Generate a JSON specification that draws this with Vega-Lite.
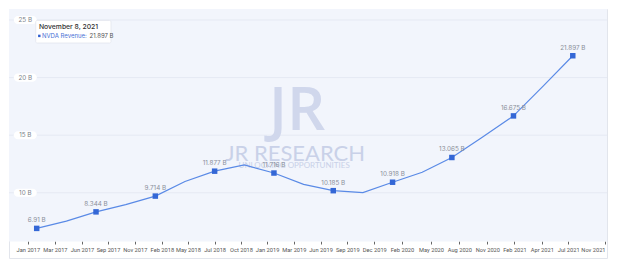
{
  "$schema": "https://vega.github.io/schema/vega-lite/v6.json",
  "width": 598,
  "height": 249,
  "autosize": {"type": "none"},
  "padding": {"left": 9, "top": 9, "right": 18, "bottom": 19},
  "background": "white",
  "config": {
    "font": "Inter",
    "view": {"stroke": "#e2e5ec", "fill": "white"}
  },
  "datasets": {
    "ttm": [
      {"date": "2017-01-29", "value": 6.91},
      {"date": "2017-04-30", "value": 7.542},
      {"date": "2017-07-30", "value": 8.344},
      {"date": "2017-10-29", "value": 8.976},
      {"date": "2018-01-28", "value": 9.714},
      {"date": "2018-04-29", "value": 10.984},
      {"date": "2018-07-29", "value": 11.877},
      {"date": "2018-10-28", "value": 12.422},
      {"date": "2019-01-27", "value": 11.716},
      {"date": "2019-04-28", "value": 10.729},
      {"date": "2019-07-28", "value": 10.185},
      {"date": "2019-10-27", "value": 10.018},
      {"date": "2020-01-26", "value": 10.918},
      {"date": "2020-04-26", "value": 11.778},
      {"date": "2020-07-26", "value": 13.065},
      {"date": "2020-10-25", "value": 14.777},
      {"date": "2021-01-31", "value": 16.675},
      {"date": "2021-05-02", "value": 19.256},
      {"date": "2021-08-01", "value": 21.897}
    ],
    "grid": [{"v": 10}, {"v": 15}, {"v": 20}, {"v": 25}]
  },
  "layer": [
    {
      "data": {"values": [{}]},
      "mark": {"type": "rect", "color": "#f2f5fc"},
      "encoding": {
        "y": {"datum": 5.77, "type": "quantitative", "scale": {"domain": [4.34, 25.955], "nice": false, "zero": false}, "axis": null},
        "y2": {"datum": 25.955}
      }
    },
    {
      "data": {"name": "grid"},
      "mark": {"type": "rule", "color": "#e5e9f3", "strokeWidth": 1},
      "encoding": {
        "y": {"field": "v", "type": "quantitative", "scale": {"domain": [4.34, 25.955], "nice": false, "zero": false}, "axis": null}
      }
    },
    {
      "data": {"values": [{}]},
      "mark": {"type": "text", "text": "JR", "fontSize": 60, "fontWeight": 600, "font": "Open Sans", "color": "#d0d7ec", "align": "center", "baseline": "middle", "letterSpacing": -4},
      "encoding": {
        "x": {"datum": {"year": 2019, "month": 4, "date": 8}, "type": "temporal", "scale": {"domain": [{"year": 2016, "month": 11, "date": 5}, {"year": 2021, "month": 11, "date": 14}]}, "axis": {"title": null, "format": "%b %Y", "domain": false, "grid": false, "tickColor": "#666", "tickSize": 3, "labelFont": "Roboto", "labelFontSize": 5.7, "labelColor": "#555", "labelPadding": 2, "offset": -17, "labelOverlap": false, "labelFlush": 5, "values": [{"year": 2017, "month": 1, "date": 2}, {"year": 2017, "month": 3, "date": 26}, {"year": 2017, "month": 6, "date": 17}, {"year": 2017, "month": 9, "date": 5}, {"year": 2017, "month": 11, "date": 26}, {"year": 2018, "month": 2, "date": 17}, {"year": 2018, "month": 5, "date": 8}, {"year": 2018, "month": 7, "date": 29}, {"year": 2018, "month": 10, "date": 18}, {"year": 2019, "month": 1, "date": 6}, {"year": 2019, "month": 3, "date": 29}, {"year": 2019, "month": 6, "date": 19}, {"year": 2019, "month": 9, "date": 9}, {"year": 2019, "month": 12, "date": 1}, {"year": 2020, "month": 2, "date": 24}, {"year": 2020, "month": 5, "date": 23}, {"year": 2020, "month": 8, "date": 18}, {"year": 2020, "month": 11, "date": 12}, {"year": 2021, "month": 2, "date": 3}, {"year": 2021, "month": 4, "date": 28}, {"year": 2021, "month": 7, "date": 18}, {"year": 2021, "month": 11, "date": 8}]}},
        "y": {"datum": 17.0, "type": "quantitative", "scale": {"domain": [4.34, 25.955], "nice": false, "zero": false}, "axis": null}
      }
    },
    {
      "data": {"values": [{}]},
      "mark": {"type": "text", "text": "JR RESEARCH", "fontSize": 22, "fontWeight": 400, "font": "Lato", "color": "#c9d1e8", "align": "center", "baseline": "middle"},
      "encoding": {
        "x": {"datum": {"year": 2019, "month": 4, "date": 2}, "type": "temporal", "scale": {"domain": [{"year": 2016, "month": 11, "date": 5}, {"year": 2021, "month": 11, "date": 14}]}, "axis": {"title": null, "format": "%b %Y", "domain": false, "grid": false, "tickColor": "#666", "tickSize": 3, "labelFont": "Roboto", "labelFontSize": 5.7, "labelColor": "#555", "labelPadding": 2, "offset": -17, "labelOverlap": false, "labelFlush": 5, "values": [{"year": 2017, "month": 1, "date": 2}, {"year": 2017, "month": 3, "date": 26}, {"year": 2017, "month": 6, "date": 17}, {"year": 2017, "month": 9, "date": 5}, {"year": 2017, "month": 11, "date": 26}, {"year": 2018, "month": 2, "date": 17}, {"year": 2018, "month": 5, "date": 8}, {"year": 2018, "month": 7, "date": 29}, {"year": 2018, "month": 10, "date": 18}, {"year": 2019, "month": 1, "date": 6}, {"year": 2019, "month": 3, "date": 29}, {"year": 2019, "month": 6, "date": 19}, {"year": 2019, "month": 9, "date": 9}, {"year": 2019, "month": 12, "date": 1}, {"year": 2020, "month": 2, "date": 24}, {"year": 2020, "month": 5, "date": 23}, {"year": 2020, "month": 8, "date": 18}, {"year": 2020, "month": 11, "date": 12}, {"year": 2021, "month": 2, "date": 3}, {"year": 2021, "month": 4, "date": 28}, {"year": 2021, "month": 7, "date": 18}, {"year": 2021, "month": 11, "date": 8}]}},
        "y": {"datum": 13.37, "type": "quantitative", "scale": {"domain": [4.34, 25.955], "nice": false, "zero": false}, "axis": null}
      }
    },
    {
      "data": {"values": [{}]},
      "mark": {"type": "text", "text": "UNLOCKING OPPORTUNITIES", "fontSize": 8, "fontWeight": 400, "font": "Lato", "color": "#c9d1e8", "align": "center", "baseline": "middle"},
      "encoding": {
        "x": {"datum": {"year": 2019, "month": 3, "date": 30}, "type": "temporal", "scale": {"domain": [{"year": 2016, "month": 11, "date": 5}, {"year": 2021, "month": 11, "date": 14}]}, "axis": {"title": null, "format": "%b %Y", "domain": false, "grid": false, "tickColor": "#666", "tickSize": 3, "labelFont": "Roboto", "labelFontSize": 5.7, "labelColor": "#555", "labelPadding": 2, "offset": -17, "labelOverlap": false, "labelFlush": 5, "values": [{"year": 2017, "month": 1, "date": 2}, {"year": 2017, "month": 3, "date": 26}, {"year": 2017, "month": 6, "date": 17}, {"year": 2017, "month": 9, "date": 5}, {"year": 2017, "month": 11, "date": 26}, {"year": 2018, "month": 2, "date": 17}, {"year": 2018, "month": 5, "date": 8}, {"year": 2018, "month": 7, "date": 29}, {"year": 2018, "month": 10, "date": 18}, {"year": 2019, "month": 1, "date": 6}, {"year": 2019, "month": 3, "date": 29}, {"year": 2019, "month": 6, "date": 19}, {"year": 2019, "month": 9, "date": 9}, {"year": 2019, "month": 12, "date": 1}, {"year": 2020, "month": 2, "date": 24}, {"year": 2020, "month": 5, "date": 23}, {"year": 2020, "month": 8, "date": 18}, {"year": 2020, "month": 11, "date": 12}, {"year": 2021, "month": 2, "date": 3}, {"year": 2021, "month": 4, "date": 28}, {"year": 2021, "month": 7, "date": 18}, {"year": 2021, "month": 11, "date": 8}]}},
        "y": {"datum": 12.33, "type": "quantitative", "scale": {"domain": [4.34, 25.955], "nice": false, "zero": false}, "axis": null}
      }
    },
    {
      "data": {"name": "grid"},
      "mark": {"type": "point", "shape": "M-0.65,-0.35 L0.65,-0.35 A0.35,0.35 0 0 1 0.65,0.35 L-0.65,0.35 A0.35,0.35 0 0 1 -0.65,-0.35 Z", "filled": true, "color": "white", "opacity": 1, "size": 529},
      "encoding": {
        "x": {"datum": {"year": 2016, "month": 12, "date": 25}, "type": "temporal", "scale": {"domain": [{"year": 2016, "month": 11, "date": 5}, {"year": 2021, "month": 11, "date": 14}]}, "axis": {"title": null, "format": "%b %Y", "domain": false, "grid": false, "tickColor": "#666", "tickSize": 3, "labelFont": "Roboto", "labelFontSize": 5.7, "labelColor": "#555", "labelPadding": 2, "offset": -17, "labelOverlap": false, "labelFlush": 5, "values": [{"year": 2017, "month": 1, "date": 2}, {"year": 2017, "month": 3, "date": 26}, {"year": 2017, "month": 6, "date": 17}, {"year": 2017, "month": 9, "date": 5}, {"year": 2017, "month": 11, "date": 26}, {"year": 2018, "month": 2, "date": 17}, {"year": 2018, "month": 5, "date": 8}, {"year": 2018, "month": 7, "date": 29}, {"year": 2018, "month": 10, "date": 18}, {"year": 2019, "month": 1, "date": 6}, {"year": 2019, "month": 3, "date": 29}, {"year": 2019, "month": 6, "date": 19}, {"year": 2019, "month": 9, "date": 9}, {"year": 2019, "month": 12, "date": 1}, {"year": 2020, "month": 2, "date": 24}, {"year": 2020, "month": 5, "date": 23}, {"year": 2020, "month": 8, "date": 18}, {"year": 2020, "month": 11, "date": 12}, {"year": 2021, "month": 2, "date": 3}, {"year": 2021, "month": 4, "date": 28}, {"year": 2021, "month": 7, "date": 18}, {"year": 2021, "month": 11, "date": 8}]}},
        "y": {"field": "v", "type": "quantitative", "scale": {"domain": [4.34, 25.955], "nice": false, "zero": false}, "axis": null}
      }
    },
    {
      "data": {"name": "grid"},
      "transform": [{"calculate": "datum.v + ' B'", "as": "label"}],
      "mark": {"type": "text", "fontSize": 6.3, "color": "#7a7f8a", "align": "center", "baseline": "middle"},
      "encoding": {
        "x": {"datum": {"year": 2016, "month": 12, "date": 25}, "type": "temporal", "scale": {"domain": [{"year": 2016, "month": 11, "date": 5}, {"year": 2021, "month": 11, "date": 14}]}, "axis": {"title": null, "format": "%b %Y", "domain": false, "grid": false, "tickColor": "#666", "tickSize": 3, "labelFont": "Roboto", "labelFontSize": 5.7, "labelColor": "#555", "labelPadding": 2, "offset": -17, "labelOverlap": false, "labelFlush": 5, "values": [{"year": 2017, "month": 1, "date": 2}, {"year": 2017, "month": 3, "date": 26}, {"year": 2017, "month": 6, "date": 17}, {"year": 2017, "month": 9, "date": 5}, {"year": 2017, "month": 11, "date": 26}, {"year": 2018, "month": 2, "date": 17}, {"year": 2018, "month": 5, "date": 8}, {"year": 2018, "month": 7, "date": 29}, {"year": 2018, "month": 10, "date": 18}, {"year": 2019, "month": 1, "date": 6}, {"year": 2019, "month": 3, "date": 29}, {"year": 2019, "month": 6, "date": 19}, {"year": 2019, "month": 9, "date": 9}, {"year": 2019, "month": 12, "date": 1}, {"year": 2020, "month": 2, "date": 24}, {"year": 2020, "month": 5, "date": 23}, {"year": 2020, "month": 8, "date": 18}, {"year": 2020, "month": 11, "date": 12}, {"year": 2021, "month": 2, "date": 3}, {"year": 2021, "month": 4, "date": 28}, {"year": 2021, "month": 7, "date": 18}, {"year": 2021, "month": 11, "date": 8}]}},
        "y": {"field": "v", "type": "quantitative", "scale": {"domain": [4.34, 25.955], "nice": false, "zero": false}, "axis": null},
        "text": {"field": "label"}
      }
    },
    {
      "data": {"name": "ttm"},
      "mark": {"type": "line", "color": "#5a8ae6", "strokeWidth": 1.2},
      "encoding": {
        "x": {"field": "date", "type": "temporal", "scale": {"domain": [{"year": 2016, "month": 11, "date": 5}, {"year": 2021, "month": 11, "date": 14}]}, "axis": {"title": null, "format": "%b %Y", "domain": false, "grid": false, "tickColor": "#666", "tickSize": 3, "labelFont": "Roboto", "labelFontSize": 5.7, "labelColor": "#555", "labelPadding": 2, "offset": -17, "labelOverlap": false, "labelFlush": 5, "values": [{"year": 2017, "month": 1, "date": 2}, {"year": 2017, "month": 3, "date": 26}, {"year": 2017, "month": 6, "date": 17}, {"year": 2017, "month": 9, "date": 5}, {"year": 2017, "month": 11, "date": 26}, {"year": 2018, "month": 2, "date": 17}, {"year": 2018, "month": 5, "date": 8}, {"year": 2018, "month": 7, "date": 29}, {"year": 2018, "month": 10, "date": 18}, {"year": 2019, "month": 1, "date": 6}, {"year": 2019, "month": 3, "date": 29}, {"year": 2019, "month": 6, "date": 19}, {"year": 2019, "month": 9, "date": 9}, {"year": 2019, "month": 12, "date": 1}, {"year": 2020, "month": 2, "date": 24}, {"year": 2020, "month": 5, "date": 23}, {"year": 2020, "month": 8, "date": 18}, {"year": 2020, "month": 11, "date": 12}, {"year": 2021, "month": 2, "date": 3}, {"year": 2021, "month": 4, "date": 28}, {"year": 2021, "month": 7, "date": 18}, {"year": 2021, "month": 11, "date": 8}]}},
        "y": {"field": "value", "type": "quantitative", "scale": {"domain": [4.34, 25.955], "nice": false, "zero": false}, "axis": null}
      }
    },
    {
      "data": {"name": "ttm"},
      "transform": [
        {"window": [{"op": "row_number", "as": "i"}]},
        {"filter": "datum.i % 2 == 1"}
      ],
      "mark": {"type": "point", "shape": "square", "filled": true, "color": "#3467d6", "opacity": 1, "size": 30},
      "encoding": {
        "x": {"field": "date", "type": "temporal", "scale": {"domain": [{"year": 2016, "month": 11, "date": 5}, {"year": 2021, "month": 11, "date": 14}]}, "axis": {"title": null, "format": "%b %Y", "domain": false, "grid": false, "tickColor": "#666", "tickSize": 3, "labelFont": "Roboto", "labelFontSize": 5.7, "labelColor": "#555", "labelPadding": 2, "offset": -17, "labelOverlap": false, "labelFlush": 5, "values": [{"year": 2017, "month": 1, "date": 2}, {"year": 2017, "month": 3, "date": 26}, {"year": 2017, "month": 6, "date": 17}, {"year": 2017, "month": 9, "date": 5}, {"year": 2017, "month": 11, "date": 26}, {"year": 2018, "month": 2, "date": 17}, {"year": 2018, "month": 5, "date": 8}, {"year": 2018, "month": 7, "date": 29}, {"year": 2018, "month": 10, "date": 18}, {"year": 2019, "month": 1, "date": 6}, {"year": 2019, "month": 3, "date": 29}, {"year": 2019, "month": 6, "date": 19}, {"year": 2019, "month": 9, "date": 9}, {"year": 2019, "month": 12, "date": 1}, {"year": 2020, "month": 2, "date": 24}, {"year": 2020, "month": 5, "date": 23}, {"year": 2020, "month": 8, "date": 18}, {"year": 2020, "month": 11, "date": 12}, {"year": 2021, "month": 2, "date": 3}, {"year": 2021, "month": 4, "date": 28}, {"year": 2021, "month": 7, "date": 18}, {"year": 2021, "month": 11, "date": 8}]}},
        "y": {"field": "value", "type": "quantitative", "scale": {"domain": [4.34, 25.955], "nice": false, "zero": false}, "axis": null}
      }
    },
    {
      "data": {"name": "ttm"},
      "transform": [
        {"window": [{"op": "row_number", "as": "i"}]},
        {"filter": "datum.i % 2 == 1"},
        {"calculate": "datum.value + ' B'", "as": "label"}
      ],
      "mark": {"type": "text", "fontSize": 6.3, "color": "#8a8f9a", "align": "center", "baseline": "bottom", "dy": -5},
      "encoding": {
        "x": {"field": "date", "type": "temporal", "scale": {"domain": [{"year": 2016, "month": 11, "date": 5}, {"year": 2021, "month": 11, "date": 14}]}, "axis": {"title": null, "format": "%b %Y", "domain": false, "grid": false, "tickColor": "#666", "tickSize": 3, "labelFont": "Roboto", "labelFontSize": 5.7, "labelColor": "#555", "labelPadding": 2, "offset": -17, "labelOverlap": false, "labelFlush": 5, "values": [{"year": 2017, "month": 1, "date": 2}, {"year": 2017, "month": 3, "date": 26}, {"year": 2017, "month": 6, "date": 17}, {"year": 2017, "month": 9, "date": 5}, {"year": 2017, "month": 11, "date": 26}, {"year": 2018, "month": 2, "date": 17}, {"year": 2018, "month": 5, "date": 8}, {"year": 2018, "month": 7, "date": 29}, {"year": 2018, "month": 10, "date": 18}, {"year": 2019, "month": 1, "date": 6}, {"year": 2019, "month": 3, "date": 29}, {"year": 2019, "month": 6, "date": 19}, {"year": 2019, "month": 9, "date": 9}, {"year": 2019, "month": 12, "date": 1}, {"year": 2020, "month": 2, "date": 24}, {"year": 2020, "month": 5, "date": 23}, {"year": 2020, "month": 8, "date": 18}, {"year": 2020, "month": 11, "date": 12}, {"year": 2021, "month": 2, "date": 3}, {"year": 2021, "month": 4, "date": 28}, {"year": 2021, "month": 7, "date": 18}, {"year": 2021, "month": 11, "date": 8}]}},
        "y": {"field": "value", "type": "quantitative", "scale": {"domain": [4.34, 25.955], "nice": false, "zero": false}, "axis": null},
        "text": {"field": "label"}
      }
    },
    {
      "data": {"values": [{}]},
      "mark": {"type": "rect", "fill": "white", "stroke": "#e3e6ee", "strokeWidth": 0.8, "cornerRadius": 1.5},
      "encoding": {
        "x": {"datum": {"year": 2017, "month": 1, "date": 26}, "type": "temporal", "scale": {"domain": [{"year": 2016, "month": 11, "date": 5}, {"year": 2021, "month": 11, "date": 14}]}, "axis": {"title": null, "format": "%b %Y", "domain": false, "grid": false, "tickColor": "#666", "tickSize": 3, "labelFont": "Roboto", "labelFontSize": 5.7, "labelColor": "#555", "labelPadding": 2, "offset": -17, "labelOverlap": false, "labelFlush": 5, "values": [{"year": 2017, "month": 1, "date": 2}, {"year": 2017, "month": 3, "date": 26}, {"year": 2017, "month": 6, "date": 17}, {"year": 2017, "month": 9, "date": 5}, {"year": 2017, "month": 11, "date": 26}, {"year": 2018, "month": 2, "date": 17}, {"year": 2018, "month": 5, "date": 8}, {"year": 2018, "month": 7, "date": 29}, {"year": 2018, "month": 10, "date": 18}, {"year": 2019, "month": 1, "date": 6}, {"year": 2019, "month": 3, "date": 29}, {"year": 2019, "month": 6, "date": 19}, {"year": 2019, "month": 9, "date": 9}, {"year": 2019, "month": 12, "date": 1}, {"year": 2020, "month": 2, "date": 24}, {"year": 2020, "month": 5, "date": 23}, {"year": 2020, "month": 8, "date": 18}, {"year": 2020, "month": 11, "date": 12}, {"year": 2021, "month": 2, "date": 3}, {"year": 2021, "month": 4, "date": 28}, {"year": 2021, "month": 7, "date": 18}, {"year": 2021, "month": 11, "date": 8}]}},
        "x2": {"datum": {"year": 2017, "month": 9, "date": 14}},
        "y": {"datum": 24.96, "type": "quantitative", "scale": {"domain": [4.34, 25.955], "nice": false, "zero": false}, "axis": null},
        "y2": {"datum": 23.0}
      }
    },
    {
      "data": {"values": [{}]},
      "mark": {"type": "text", "text": "November 8, 2021", "fontSize": 6.8, "fontWeight": 500, "color": "#333", "align": "left", "baseline": "middle"},
      "encoding": {
        "x": {"datum": {"year": 2017, "month": 2, "date": 5}, "type": "temporal", "scale": {"domain": [{"year": 2016, "month": 11, "date": 5}, {"year": 2021, "month": 11, "date": 14}]}, "axis": {"title": null, "format": "%b %Y", "domain": false, "grid": false, "tickColor": "#666", "tickSize": 3, "labelFont": "Roboto", "labelFontSize": 5.7, "labelColor": "#555", "labelPadding": 2, "offset": -17, "labelOverlap": false, "labelFlush": 5, "values": [{"year": 2017, "month": 1, "date": 2}, {"year": 2017, "month": 3, "date": 26}, {"year": 2017, "month": 6, "date": 17}, {"year": 2017, "month": 9, "date": 5}, {"year": 2017, "month": 11, "date": 26}, {"year": 2018, "month": 2, "date": 17}, {"year": 2018, "month": 5, "date": 8}, {"year": 2018, "month": 7, "date": 29}, {"year": 2018, "month": 10, "date": 18}, {"year": 2019, "month": 1, "date": 6}, {"year": 2019, "month": 3, "date": 29}, {"year": 2019, "month": 6, "date": 19}, {"year": 2019, "month": 9, "date": 9}, {"year": 2019, "month": 12, "date": 1}, {"year": 2020, "month": 2, "date": 24}, {"year": 2020, "month": 5, "date": 23}, {"year": 2020, "month": 8, "date": 18}, {"year": 2020, "month": 11, "date": 12}, {"year": 2021, "month": 2, "date": 3}, {"year": 2021, "month": 4, "date": 28}, {"year": 2021, "month": 7, "date": 18}, {"year": 2021, "month": 11, "date": 8}]}},
        "y": {"datum": 24.35, "type": "quantitative", "scale": {"domain": [4.34, 25.955], "nice": false, "zero": false}, "axis": null}
      }
    },
    {
      "data": {"values": [{}]},
      "mark": {"type": "point", "shape": "square", "filled": true, "color": "#2f5fd0", "opacity": 1, "size": 6},
      "encoding": {
        "x": {"datum": {"year": 2017, "month": 2, "date": 6}, "type": "temporal", "scale": {"domain": [{"year": 2016, "month": 11, "date": 5}, {"year": 2021, "month": 11, "date": 14}]}, "axis": {"title": null, "format": "%b %Y", "domain": false, "grid": false, "tickColor": "#666", "tickSize": 3, "labelFont": "Roboto", "labelFontSize": 5.7, "labelColor": "#555", "labelPadding": 2, "offset": -17, "labelOverlap": false, "labelFlush": 5, "values": [{"year": 2017, "month": 1, "date": 2}, {"year": 2017, "month": 3, "date": 26}, {"year": 2017, "month": 6, "date": 17}, {"year": 2017, "month": 9, "date": 5}, {"year": 2017, "month": 11, "date": 26}, {"year": 2018, "month": 2, "date": 17}, {"year": 2018, "month": 5, "date": 8}, {"year": 2018, "month": 7, "date": 29}, {"year": 2018, "month": 10, "date": 18}, {"year": 2019, "month": 1, "date": 6}, {"year": 2019, "month": 3, "date": 29}, {"year": 2019, "month": 6, "date": 19}, {"year": 2019, "month": 9, "date": 9}, {"year": 2019, "month": 12, "date": 1}, {"year": 2020, "month": 2, "date": 24}, {"year": 2020, "month": 5, "date": 23}, {"year": 2020, "month": 8, "date": 18}, {"year": 2020, "month": 11, "date": 12}, {"year": 2021, "month": 2, "date": 3}, {"year": 2021, "month": 4, "date": 28}, {"year": 2021, "month": 7, "date": 18}, {"year": 2021, "month": 11, "date": 8}]}},
        "y": {"datum": 23.62, "type": "quantitative", "scale": {"domain": [4.34, 25.955], "nice": false, "zero": false}, "axis": null}
      }
    },
    {
      "data": {"values": [{}]},
      "mark": {"type": "text", "text": "NVDA Revenue:", "fontSize": 6, "color": "#4a70d6", "align": "left", "baseline": "middle"},
      "encoding": {
        "x": {"datum": {"year": 2017, "month": 2, "date": 14}, "type": "temporal", "scale": {"domain": [{"year": 2016, "month": 11, "date": 5}, {"year": 2021, "month": 11, "date": 14}]}, "axis": {"title": null, "format": "%b %Y", "domain": false, "grid": false, "tickColor": "#666", "tickSize": 3, "labelFont": "Roboto", "labelFontSize": 5.7, "labelColor": "#555", "labelPadding": 2, "offset": -17, "labelOverlap": false, "labelFlush": 5, "values": [{"year": 2017, "month": 1, "date": 2}, {"year": 2017, "month": 3, "date": 26}, {"year": 2017, "month": 6, "date": 17}, {"year": 2017, "month": 9, "date": 5}, {"year": 2017, "month": 11, "date": 26}, {"year": 2018, "month": 2, "date": 17}, {"year": 2018, "month": 5, "date": 8}, {"year": 2018, "month": 7, "date": 29}, {"year": 2018, "month": 10, "date": 18}, {"year": 2019, "month": 1, "date": 6}, {"year": 2019, "month": 3, "date": 29}, {"year": 2019, "month": 6, "date": 19}, {"year": 2019, "month": 9, "date": 9}, {"year": 2019, "month": 12, "date": 1}, {"year": 2020, "month": 2, "date": 24}, {"year": 2020, "month": 5, "date": 23}, {"year": 2020, "month": 8, "date": 18}, {"year": 2020, "month": 11, "date": 12}, {"year": 2021, "month": 2, "date": 3}, {"year": 2021, "month": 4, "date": 28}, {"year": 2021, "month": 7, "date": 18}, {"year": 2021, "month": 11, "date": 8}]}},
        "y": {"datum": 23.62, "type": "quantitative", "scale": {"domain": [4.34, 25.955], "nice": false, "zero": false}, "axis": null}
      }
    },
    {
      "data": {"values": [{}]},
      "mark": {"type": "text", "text": "21.897 B", "fontSize": 6, "color": "#555", "align": "left", "baseline": "middle"},
      "encoding": {
        "x": {"datum": {"year": 2017, "month": 7, "date": 10}, "type": "temporal", "scale": {"domain": [{"year": 2016, "month": 11, "date": 5}, {"year": 2021, "month": 11, "date": 14}]}, "axis": {"title": null, "format": "%b %Y", "domain": false, "grid": false, "tickColor": "#666", "tickSize": 3, "labelFont": "Roboto", "labelFontSize": 5.7, "labelColor": "#555", "labelPadding": 2, "offset": -17, "labelOverlap": false, "labelFlush": 5, "values": [{"year": 2017, "month": 1, "date": 2}, {"year": 2017, "month": 3, "date": 26}, {"year": 2017, "month": 6, "date": 17}, {"year": 2017, "month": 9, "date": 5}, {"year": 2017, "month": 11, "date": 26}, {"year": 2018, "month": 2, "date": 17}, {"year": 2018, "month": 5, "date": 8}, {"year": 2018, "month": 7, "date": 29}, {"year": 2018, "month": 10, "date": 18}, {"year": 2019, "month": 1, "date": 6}, {"year": 2019, "month": 3, "date": 29}, {"year": 2019, "month": 6, "date": 19}, {"year": 2019, "month": 9, "date": 9}, {"year": 2019, "month": 12, "date": 1}, {"year": 2020, "month": 2, "date": 24}, {"year": 2020, "month": 5, "date": 23}, {"year": 2020, "month": 8, "date": 18}, {"year": 2020, "month": 11, "date": 12}, {"year": 2021, "month": 2, "date": 3}, {"year": 2021, "month": 4, "date": 28}, {"year": 2021, "month": 7, "date": 18}, {"year": 2021, "month": 11, "date": 8}]}},
        "y": {"datum": 23.62, "type": "quantitative", "scale": {"domain": [4.34, 25.955], "nice": false, "zero": false}, "axis": null}
      }
    }
  ]
}
